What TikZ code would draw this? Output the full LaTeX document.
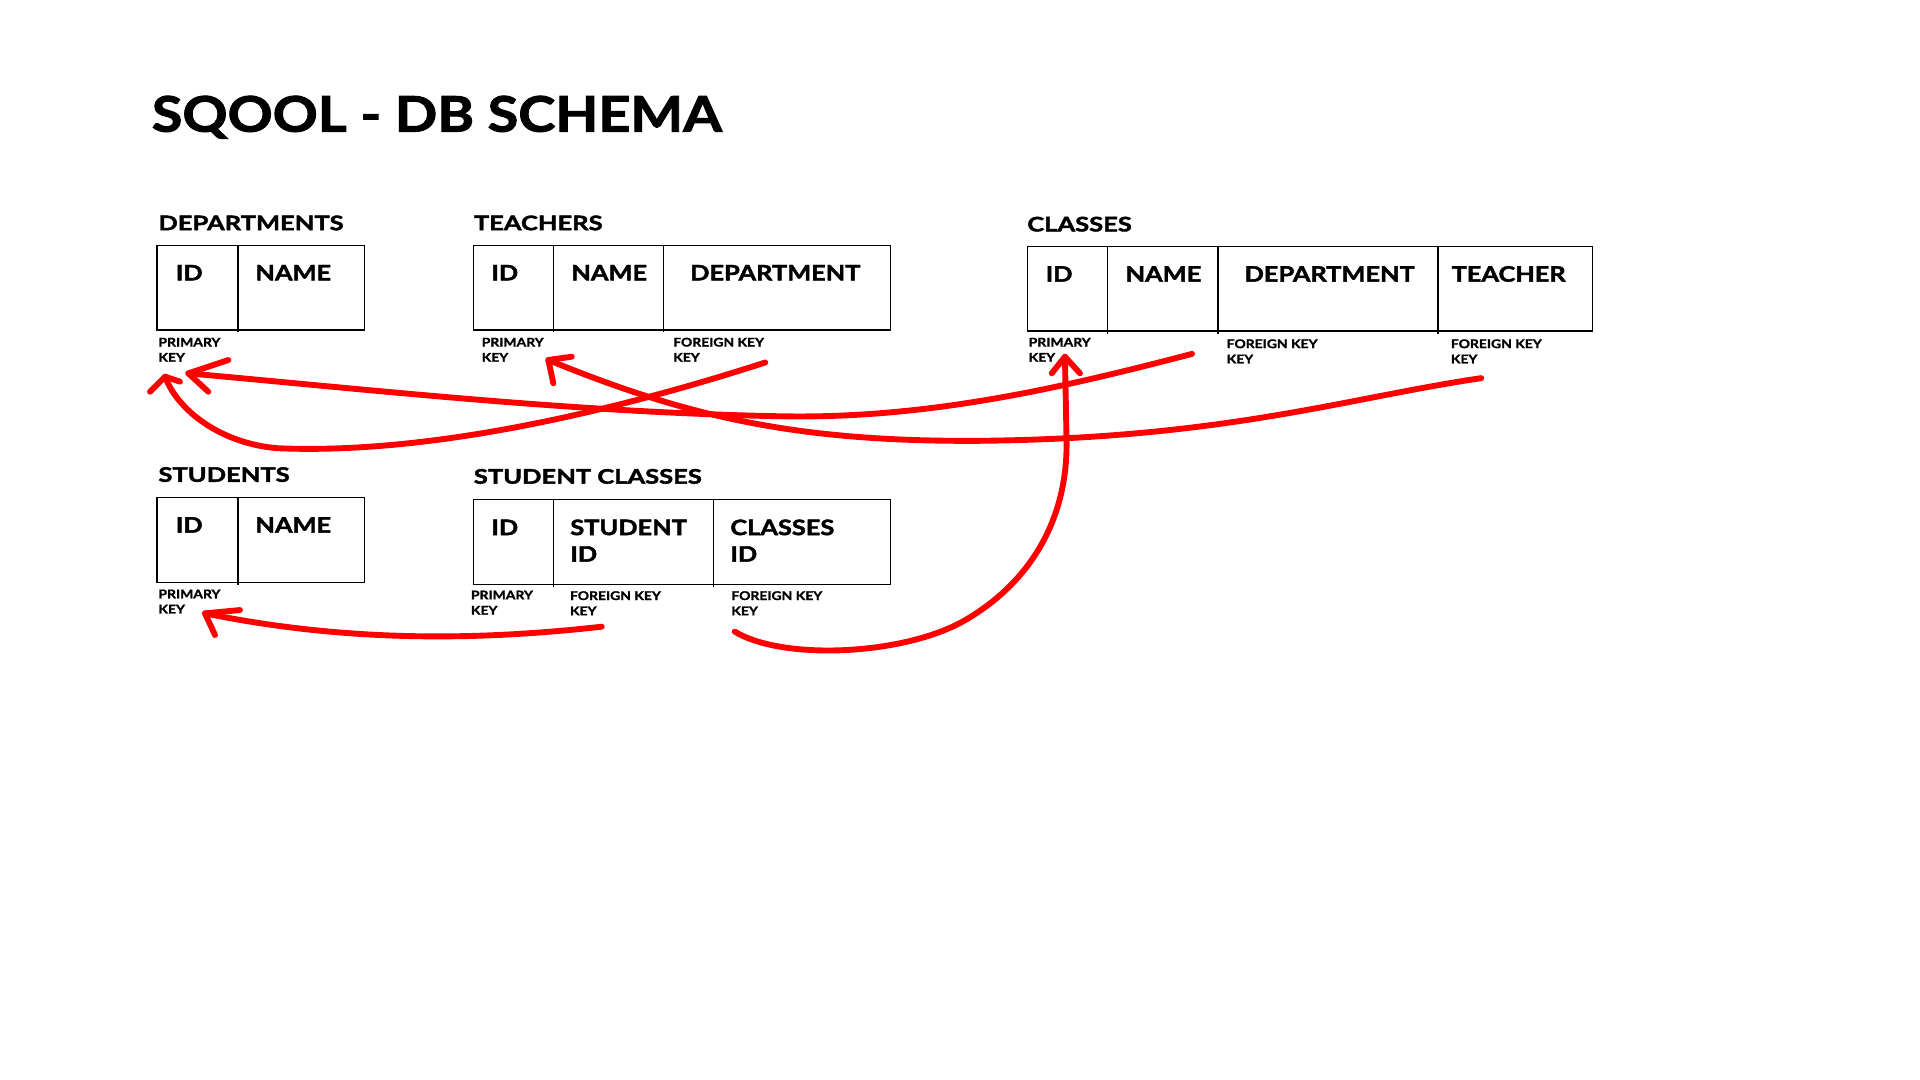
\documentclass[tikz,border=0pt]{standalone}
\usepackage{fontspec}
\setmainfont{Lato}
\newfontfamily\titlefam{Lato}[FakeStretch=1.14, BoldFeatures={FakeBold=2}]
\newfontfamily\headfam{Lato}[FakeStretch=1.27, BoldFeatures={FakeBold=2}]
\newfontfamily\colfam{Lato}[FakeStretch=1.19, BoldFeatures={FakeBold=2}]
\newfontfamily\keyfam{Lato}[FakeStretch=1.16, BoldFeatures={FakeBold=1.5}]
\begin{document}
\begin{tikzpicture}[x=0.5pt,y=-0.5pt,
  every node/.style={inner sep=0pt,outer sep=0pt},
  titletext/.style={anchor=base west,font=\titlefam\bfseries\fontsize{20}{24}\selectfont},
  tablename/.style={anchor=base west,font=\headfam\bfseries\fontsize{8.2}{10}\selectfont},
  coltext/.style={anchor=base west,align=left,font=\colfam\bfseries\fontsize{8.7}{10.85}\selectfont},
  keytext/.style={anchor=base west,align=left,font=\keyfam\bfseries\fontsize{4.9}{6.2}\selectfont},
  frame/.style={draw=black,line width=0.6pt},
  link/.style={draw=red,line width=2.4pt,line cap=round,line join=round},
]
\useasboundingbox (0,0) rectangle (1568,882);
\fill[white] (0,0) rectangle (1568,882);

% heading
\node[titletext] (title) at (124,107.5) {SQOOL - DB SCHEMA};

% multi-line labels are anchored at the baseline of their last line

% ---------- DEPARTMENTS ----------
\node[tablename] (depname) at (129.4,188) {DEPARTMENTS};
\draw[frame] (128.2,200.6) rectangle (297.6,269.5);
\draw[frame] (194.3,200.6) -- (194.3,271.5);
\node[coltext] (depid)   at (143.6,229) {ID};
\node[coltext] (depnm)   at (208.6,229) {NAME};
\node[keytext] (deppk)   at (129.4,295.4) {PRIMARY\\KEY};

% ---------- TEACHERS ----------
\node[tablename] (teaname) at (387,188) {TEACHERS};
\draw[frame] (386.7,200.6) rectangle (727.2,269.5);
\foreach \x in {452,541.9} \draw[frame] (\x,200.6) -- (\x,271.5);
\node[coltext] (teaid)   at (401.3,229) {ID};
\node[coltext] (teanm)   at (466.6,229) {NAME};
\node[coltext] (teadep)  at (563.7,229) {DEPARTMENT};
\node[keytext] (teapk)   at (393.4,295.4) {PRIMARY\\KEY};
\node[keytext] (teafk)   at (549.8,295.4) {FOREIGN KEY\\KEY};

% ---------- CLASSES ----------
\node[tablename] (claname) at (839,189) {CLASSES};
\draw[frame] (839,201.5) rectangle (1300.5,270.4);
\foreach \x in {904.3,994.8,1174.4} \draw[frame] (\x,201.5) -- (\x,272.4);
\node[coltext] (claid)   at (854,230) {ID};
\node[coltext] (clanm)   at (919.2,230) {NAME};
\node[coltext] (cladep)  at (1016.4,230) {DEPARTMENT};
\node[coltext] (clatea)  at (1185.5,230) {TEACHER};
\node[keytext] (clapk)   at (840.1,295.4) {PRIMARY\\KEY};
\node[keytext] (clafkd)  at (1001.8,296.7) {FOREIGN KEY\\KEY};
\node[keytext] (clafkt)  at (1184.9,296.7) {FOREIGN KEY\\KEY};

% ---------- STUDENTS ----------
\node[tablename] (stuname) at (129.4,393.5) {STUDENTS};
\draw[frame] (128.2,406.2) rectangle (297.6,475.6);
\draw[frame] (194.3,406.2) -- (194.3,477.6);
\node[coltext] (stuid)   at (143.6,435) {ID};
\node[coltext] (stunm)   at (208.6,435) {NAME};
\node[keytext] (stupk)   at (129.4,501) {PRIMARY\\KEY};

% ---------- STUDENT CLASSES ----------
\node[tablename] (scname) at (387,395) {STUDENT CLASSES};
\draw[frame] (386.7,407.8) rectangle (727.2,477.2);
\foreach \x in {452,582.6} \draw[frame] (\x,407.8) -- (\x,479.2);
\node[coltext] (scid)    at (401.3,437) {ID};
\node[coltext] (scstu)   at (465.8,458.7) {STUDENT\\ID};
\node[coltext] (sccla)   at (596.5,458.7) {CLASSES\\ID};
\node[keytext] (scpk)    at (384.6,501.9) {PRIMARY\\KEY};
\node[keytext] (scfks)   at (465.5,502.4) {FOREIGN KEY\\KEY};
\node[keytext] (scfkc)   at (597.3,502.4) {FOREIGN KEY\\KEY};

% ---------- hand-drawn links ----------
% teachers.department -> departments.id
\coordinate (aS) at (625,296);
\coordinate (aT) at (134.8,307.6);
\draw[link] (aS) .. controls (520,330) and (360,372) .. (226,366)
               .. controls (180,362) and (145,335) .. (aT);
\draw[link] (122.5,319.9) -- (aT) -- (147,311.7);

% classes.department -> departments.id
\coordinate (bS) at (973.5,289);
\coordinate (bT) at (153.8,304.9);
\draw[link] (bS) .. controls (870,316) and (760,342) .. (640,340)
               .. controls (470,337) and (300,318) .. (bT);
\draw[link] (186.5,294) -- (bT) -- (170.1,319.9);

% classes.teacher -> teachers.id
\coordinate (cS) at (1209.7,308.8);
\coordinate (cT) at (447.8,294);
\draw[link] (cS) .. controls (1100,325) and (1000,358) .. (800,360)
               .. controls (650,361) and (560,340) .. (cT);
\draw[link] (466.9,291.3) -- (cT) -- (451.9,313);

% student classes.classes id -> classes.id
\coordinate (dS) at (600,515.8);
\coordinate (dT) at (869.7,291.3);
\draw[link] (dS) .. controls (640,540) and (740,535) .. (789,506)
               .. controls (845,473) and (872,420) .. (871,360)
               .. controls (870.5,330) and (870,310) .. (dT);
\draw[link] (858.9,304.9) -- (dT) -- (882,304.9);

% student classes.student id -> students.id
\coordinate (eS) at (491.4,511.8);
\coordinate (eT) at (167.4,500.9);
\draw[link] (eS) .. controls (400,522) and (290,526) .. (eT);
\draw[link] (196,498.2) -- (eT) -- (175.6,518.6);
\end{tikzpicture}
\end{document}
